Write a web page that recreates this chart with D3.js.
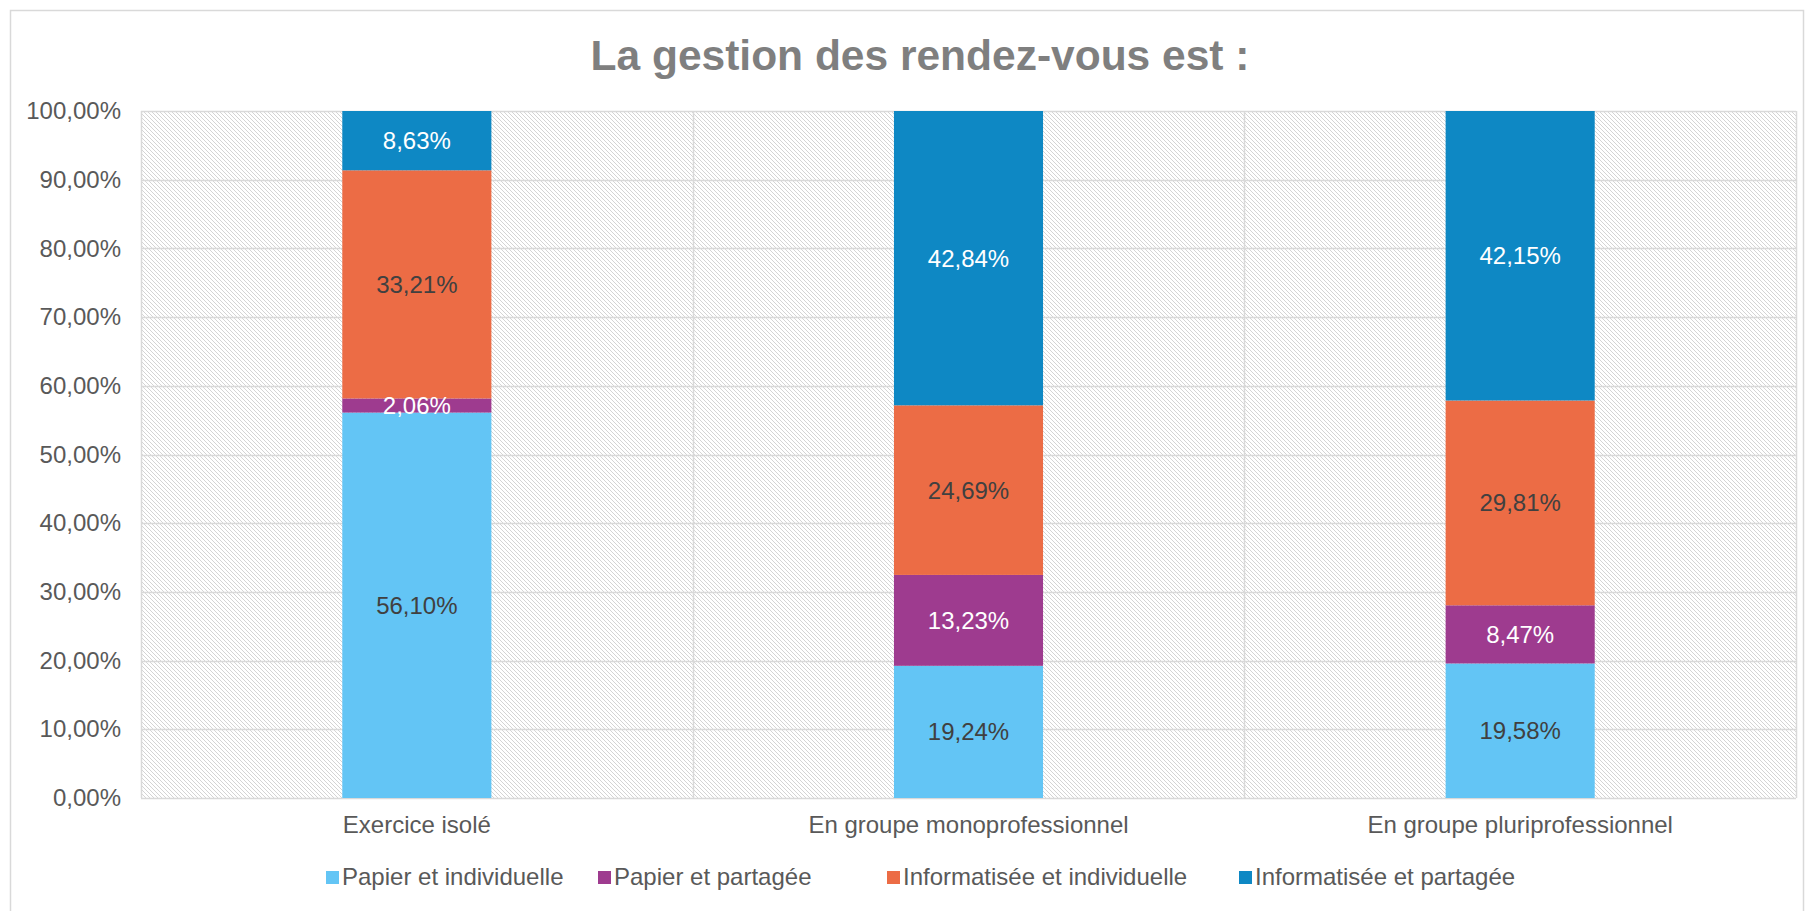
<!DOCTYPE html>
<html><head><meta charset="utf-8">
<script src="https://cdn.jsdelivr.net/npm/d3@7"></script>
<style>body{margin:0;background:#fff;}svg{display:block;font-family:"Liberation Sans",Arial,sans-serif;}</style>
</head><body>
<script>
const categories = ["Exercice isolé", "En groupe monoprofessionnel", "En groupe pluriprofessionnel"];
const seriesNames = ["Papier et individuelle", "Papier et partagée", "Informatisée et individuelle", "Informatisée et partagée"];
const papierIndividuelle = [56.10, 19.24, 19.58];
const papierPartagee = [2.06, 13.23, 8.47];
const informatiseeIndividuelle = [33.21, 24.69, 29.81];
const informatiseePartagee = [8.63, 42.84, 42.15];
const yTicks = [0, 10, 20, 30, 40, 50, 60, 70, 80, 90, 100];
const title = "La gestion des rendez-vous est :";

const colors = ["#63c5f5", "#9e3b8f", "#ec6c45", "#0e88c4"];
const labelColors = ["#404040", "#ffffff", "#404040", "#ffffff"];
const seriesValues = [papierIndividuelle, papierPartagee, informatiseeIndividuelle, informatiseePartagee];

const W = 1814, H = 911;
const plot = {left: 141, right: 1796, top: 111, bottom: 798};

const svg = d3.select("body").append("svg").attr("width", W).attr("height", H);

const defs = svg.append("defs");
const pat = defs.append("pattern").attr("id", "hatch").attr("patternUnits", "userSpaceOnUse")
  .attr("width", 4).attr("height", 4);
pat.append("rect").attr("width", 4).attr("height", 4).attr("fill", "#ffffff");
pat.append("path").attr("d", "M-1,-1 L5,5 M3,-1 L5,1 M-1,3 L1,5")
  .attr("stroke", "#d4d4d4").attr("stroke-width", 1);

// outer chart border
svg.append("rect").attr("x", 10.5).attr("y", 10.5).attr("width", W - 21).attr("height", H + 20)
  .attr("fill", "#fff").attr("stroke", "#d9d9d9").attr("stroke-width", 1.5);

svg.append("text").attr("x", 920).attr("y", 70).attr("text-anchor", "middle")
  .attr("font-size", 42.5).attr("font-weight", "bold").attr("fill", "#7f7f7f").text(title);

const x = d3.scaleBand().domain(categories).range([plot.left, plot.right]).paddingInner(0).paddingOuter(0);
const y = d3.scaleLinear().domain([0, 100]).range([plot.bottom, plot.top]);

// plot area hatch
svg.append("rect").attr("x", plot.left).attr("y", plot.top)
  .attr("width", plot.right - plot.left).attr("height", plot.bottom - plot.top)
  .attr("fill", "url(#hatch)");

// horizontal gridlines
svg.append("g").selectAll("line").data(yTicks).join("line")
  .attr("x1", plot.left).attr("x2", plot.right)
  .attr("y1", d => Math.round(y(d)) + 0.5).attr("y2", d => Math.round(y(d)) + 0.5)
  .attr("stroke", "#d9d9d9").attr("stroke-width", 1.5);

// vertical gridlines at category boundaries
const vBounds = categories.map(c => x(c)).concat([plot.right]);
svg.append("g").selectAll("line").data(vBounds).join("line")
  .attr("x1", d => Math.round(d) + 0.5).attr("x2", d => Math.round(d) + 0.5)
  .attr("y1", plot.top).attr("y2", plot.bottom)
  .attr("stroke", "#d9d9d9").attr("stroke-width", 1.5);

// y axis
const yAxis = d3.axisLeft(y).tickValues(yTicks).tickSize(0).tickPadding(20)
  .tickFormat(d => d3.format(".2f")(d).replace(".", ",") + "%");
const ya = svg.append("g").attr("transform", `translate(${plot.left},0)`).call(yAxis);
ya.select(".domain").remove();
ya.selectAll("text").attr("font-size", 24).attr("fill", "#595959").attr("font-family", "Liberation Sans, Arial, sans-serif");

// stacked data
const table = categories.map((c, i) => {
  const o = {cat: c};
  seriesNames.forEach((s, k) => o[s] = seriesValues[k][i]);
  return o;
});
const stack = d3.stack().keys(seriesNames)(table);

const barW = x.bandwidth() / 3.7;
stack.forEach((layer, k) => {
  const g = svg.append("g");
  g.selectAll("rect").data(layer).join("rect")
    .attr("x", d => x(d.data.cat) + (x.bandwidth() - barW) / 2)
    .attr("width", barW)
    .attr("y", d => y(Math.min(d[1], 100)))
    .attr("height", d => y(d[0]) - y(Math.min(d[1], 100)))
    .attr("fill", colors[k]);
});
stack.forEach((layer, k) => {
  const g = svg.append("g");
  g.selectAll("text").data(layer).join("text")
    .attr("x", d => x(d.data.cat) + x.bandwidth() / 2)
    .attr("y", d => y((d[0] + Math.min(d[1], 100)) / 2))
    .attr("dy", "0.35em")
    .attr("text-anchor", "middle").attr("font-size", 24)
    .attr("fill", labelColors[k])
    .text(d => d3.format(".2f")(d.data[seriesNames[k]]).replace(".", ",") + "%");
});

// x axis labels
const xAxis = d3.axisBottom(x).tickSize(0).tickPadding(18);
const xa = svg.append("g").attr("transform", `translate(0,${plot.bottom})`).call(xAxis);
xa.select(".domain").remove();
xa.selectAll("text").attr("font-size", 24).attr("fill", "#595959").attr("font-family", "Liberation Sans, Arial, sans-serif");

// legend
const legendX = [326, 598, 887, 1239];
const lg = svg.append("g").selectAll("g").data(seriesNames).join("g")
  .attr("transform", (d, i) => `translate(${legendX[i]},877)`);
lg.append("rect").attr("x", 0).attr("y", -6).attr("width", 13).attr("height", 13)
  .attr("fill", (d, i) => colors[i]);
lg.append("text").attr("x", 16).attr("y", 0).attr("dy", "0.35em")
  .attr("font-size", 24).attr("fill", "#595959").text(d => d);
</script>
</body></html>
